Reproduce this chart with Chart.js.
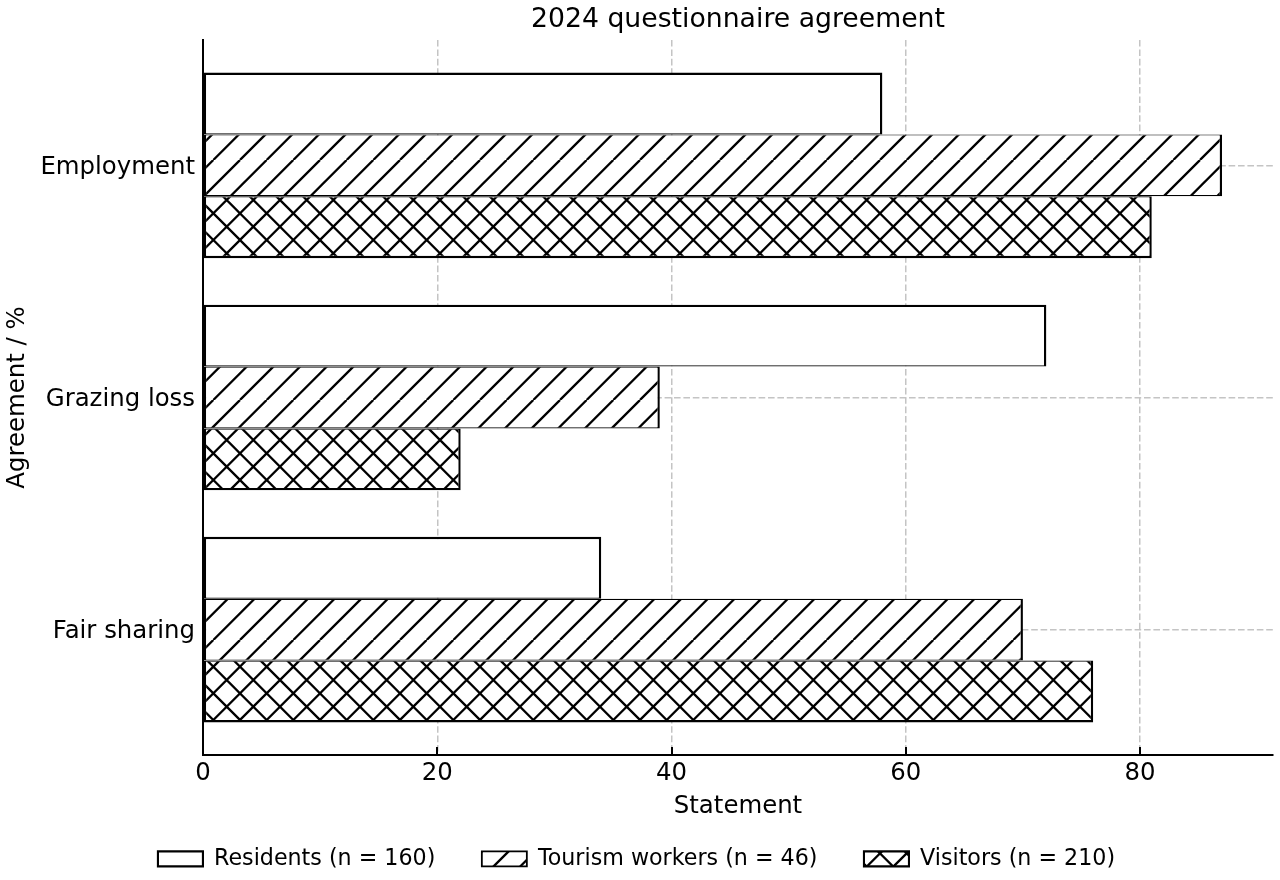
<!DOCTYPE html>
<html>
<head>
<meta charset="utf-8">
<script src="https://cdn.jsdelivr.net/npm/chart.js@4.4.1/dist/chart.umd.min.js"></script>
<style>
html,body{margin:0;padding:0;background:#fff;}
#wrap{width:1280px;height:880px;position:relative;}
</style>
</head>
<body>
<div id="wrap"><canvas id="c"></canvas></div>
<script>
// ---- data ----
const chartTitle = '2024 questionnaire agreement';
const xAxisLabel = 'Statement';
const yAxisLabel = 'Agreement / %';
const categories = ['Employment', 'Grazing loss', 'Fair sharing'];
const seriesNames = ['Residents (n = 160)', 'Tourism workers (n = 46)', 'Visitors (n = 210)'];
const residents = [58, 72, 34];
const tourismWorkers = [87, 39, 70];
const visitors = [81, 22, 76];
const xTickValues = [0, 20, 40, 60, 80];
const xMax = 91.35;

// ---- layout / style constants ----
const PLOT = {left: 203, top: 40, right: 1273, bottom: 755};
const W = 1280, H = 880;
const FONT = "'DejaVu Sans', sans-serif";
const TICK_FS = 24.4, TITLE_FS = 26.7, LEG_FS = 22.2;
const LEG_PAD = 46.5;
const LEG_H = LEG_FS + LEG_PAD + 10;
const EDGE = 2.4;

Chart.defaults.font.family = FONT;
Chart.defaults.color = '#000';

function makeHatch(slash, back) {
  const T = 80, s = T / 3;
  const c = document.createElement('canvas');
  c.width = T; c.height = T;
  const g = c.getContext('2d');
  g.fillStyle = '#fff';
  g.fillRect(0, 0, T, T);
  g.strokeStyle = '#000';
  g.lineWidth = 2.3;
  g.beginPath();
  for (let k = -4; k <= 4; k++) {
    const x0 = k * s;
    if (slash) { g.moveTo(x0, T); g.lineTo(x0 + T, 0); }
    if (back) { g.moveTo(x0, 0); g.lineTo(x0 + T, T); }
  }
  g.stroke();
  return g.createPattern(c, 'repeat');
}

const nCat = categories.length;
const posOf = i => nCat - 1 - i;
const yTickValues = categories.map((_, i) => posOf(i));
const toPoints = arr => arr.map((v, i) => ({x: v, y: posOf(i)}));

const fills = ['#ffffff', makeHatch(true, false), makeHatch(true, true)];
const seriesValues = [residents, tourismWorkers, visitors];
const borders = [
  {top: EDGE, bottom: EDGE / 2, left: EDGE, right: EDGE},
  {top: EDGE / 2, bottom: EDGE / 2, left: EDGE, right: EDGE},
  {top: EDGE / 2, bottom: EDGE, left: EDGE, right: EDGE}
];

const datasets = seriesValues.map((vals, k) => ({
  label: seriesNames[k],
  data: toPoints(vals),
  backgroundColor: fills[k],
  borderColor: '#000',
  borderWidth: borders[k],
  borderSkipped: false,
  inflateAmount: 0,
  categoryPercentage: 0.8,
  barPercentage: 1.0
}));

const mplPlugin = {
  id: 'mplStyle',
  afterLayout(chart) {
    const t = chart.titleBlock;
    if (t) { t.left = chart.chartArea.left; t.right = chart.chartArea.right; }
  },
  afterDatasetsDraw(chart) {
    const {ctx, chartArea} = chart;
    const xs = chart.scales.x;
    ctx.save();
    ctx.strokeStyle = '#000';
    ctx.lineWidth = 2;
    xs.ticks.forEach(t => {
      const px = Math.round(xs.getPixelForValue(t.value));
      ctx.beginPath();
      ctx.moveTo(px, chartArea.bottom);
      ctx.lineTo(px, chartArea.bottom - 8);
      ctx.stroke();
    });
    ctx.restore();
  }
};

const gridColor = '#c4c4c4';

new Chart(document.getElementById('c'), {
  type: 'bar',
  data: {datasets},
  plugins: [mplPlugin],
  options: {
    indexAxis: 'y',
    responsive: true,
    maintainAspectRatio: false,
    animation: false,
    layout: {padding: {left: 0, right: W - PLOT.right, top: 0, bottom: 0}},
    plugins: {
      title: {
        display: true,
        text: chartTitle,
        color: '#000',
        font: {size: TITLE_FS, weight: 'normal', family: FONT, lineHeight: 1.2},
        padding: {top: 4, bottom: PLOT.top - 4 - TITLE_FS * 1.2}
      },
      legend: {
        display: true,
        position: 'bottom',
        align: 'center',
        labels: {
          boxWidth: 45,
          boxHeight: 15,
          padding: LEG_PAD,
          color: '#000',
          font: {size: LEG_FS, family: FONT}
        }
      },
      tooltip: {enabled: false}
    },
    scales: {
      x: {
        type: 'linear',
        position: 'bottom',
        min: 0,
        max: xMax,
        offset: false,
        afterBuildTicks: s => { s.ticks = xTickValues.map(v => ({value: v})); },
        afterFit: s => { s.height = H - LEG_H - PLOT.bottom; },
        ticks: {padding: 4, color: '#000', font: {size: TICK_FS, family: FONT}},
        grid: {color: gridColor, lineWidth: 1.5, drawTicks: false, offset: false},
        border: {display: true, color: '#000', width: 2, dash: [6.6, 2.8]},
        title: {
          display: true,
          text: xAxisLabel,
          color: '#000',
          font: {size: TICK_FS, family: FONT, lineHeight: 1.2},
          padding: {top: 0, bottom: (H - LEG_H) - 807 - TICK_FS * 0.6}
        }
      },
      y: {
        type: 'linear',
        position: 'left',
        min: -0.54,
        max: 2.54,
        offset: false,
        afterBuildTicks: s => { s.ticks = yTickValues.map(v => ({value: v})); },
        afterFit: s => { s.width = PLOT.left; },
        ticks: {
          padding: 8,
          labelOffset: 2,
          color: '#000',
          font: {size: TICK_FS, family: FONT},
          callback: v => categories[nCat - 1 - v]
        },
        grid: {color: gridColor, lineWidth: 1.5, drawTicks: false, offset: false},
        border: {display: true, color: '#000', width: 2, dash: [6.6, 2.8]},
        title: {
          display: true,
          text: yAxisLabel,
          color: '#000',
          font: {size: TICK_FS, family: FONT, lineHeight: 1.2},
          padding: {top: 3, bottom: 0}
        }
      }
    }
  }
});
</script>
</body>
</html>
